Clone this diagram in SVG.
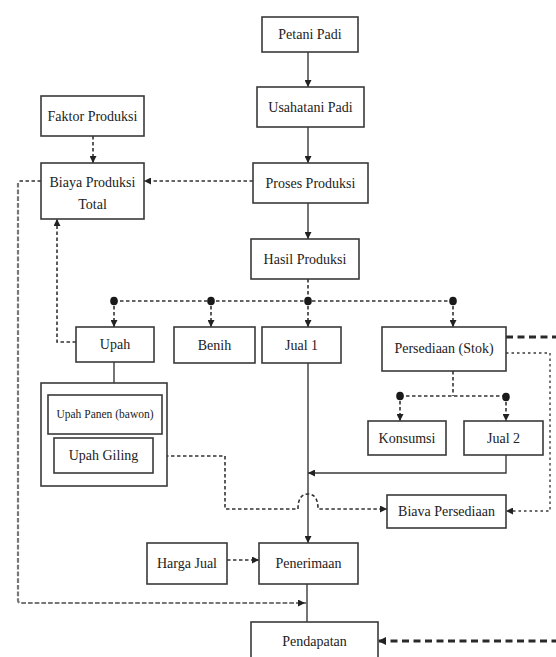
<svg xmlns="http://www.w3.org/2000/svg" width="556" height="657" viewBox="0 0 556 657">
<style>
  .box{fill:#fff;stroke:#3a3a3a;stroke-width:1.6}
  .t{font-family:'Liberation Serif','Times New Roman',serif;font-size:14px;fill:#222;text-anchor:middle}
  .ts{font-size:11.5px}
  .solid{fill:none;stroke:#3a3a3a;stroke-width:1.4}
  .dash{fill:none;stroke:#333;stroke-width:1.6;stroke-dasharray:3.5 2.5}
  .dot{fill:none;stroke:#6a6a6a;stroke-width:1.8;stroke-dasharray:2.5 3}
  .ldot{fill:none;stroke:#777;stroke-width:2.2;stroke-dasharray:2.5 4.2}
  .thick{fill:none;stroke:#2a2a2a;stroke-width:2.8;stroke-dasharray:7 4.5}
  .jn{fill:#1a1a1a}
</style>
<defs>
  <marker id="ah" viewBox="0 0 10 10" refX="10" refY="5" markerWidth="7" markerHeight="7" markerUnits="userSpaceOnUse" orient="auto">
    <path d="M0,0 L10,5 L0,10 z" fill="#222"/>
  </marker>
  <marker id="ahb" viewBox="0 0 10 10" refX="10" refY="5" markerWidth="8" markerHeight="8" markerUnits="userSpaceOnUse" orient="auto">
    <path d="M0,0 L10,5 L0,10 z" fill="#222"/>
  </marker>
</defs>

<g id="connectors">
  <path class="solid" d="M308,52 V87" marker-end="url(#ah)"/>
  <path class="solid" d="M308,127 V163" marker-end="url(#ah)"/>
  <path class="solid" d="M308,203 V239" marker-end="url(#ah)"/>
  <path class="dash" d="M93,136 V163" marker-end="url(#ah)"/>
  <path class="dash" d="M253,181 H144" marker-end="url(#ah)"/>
  <path class="dash" d="M41,181 H19"/>
  <path class="ldot" d="M18,184 V600 Q18,603 21,603 H305" marker-end="url(#ah)" stroke-linecap="square"/>
  <path class="dash" d="M308,279 V301"/>
  <path class="dash" d="M114,301 H453"/>
  <ellipse class="jn" cx="114" cy="301" rx="3.8" ry="4.3"/>
  <ellipse class="jn" cx="211" cy="301" rx="3.8" ry="4.3"/>
  <ellipse class="jn" cx="308" cy="301" rx="3.8" ry="4.3"/>
  <ellipse class="jn" cx="453" cy="301" rx="3.8" ry="4.3"/>
  <path class="dash" d="M114,306 V327" marker-end="url(#ah)"/>
  <path class="dash" d="M211,306 V327" marker-end="url(#ah)"/>
  <path class="dash" d="M308,306 V327" marker-end="url(#ah)"/>
  <path class="dash" d="M453,306 V327" marker-end="url(#ah)"/>
  <path class="dash" d="M76,342 H57 V219" marker-end="url(#ah)"/>
  <path class="solid" d="M114,362 V383"/>
  <path class="solid" d="M308,363 V543" marker-end="url(#ah)"/>
  <path class="dash" d="M453,371 V396"/>
  <path class="dash" d="M400,396 H506"/>
  <ellipse class="jn" cx="400" cy="396" rx="3.8" ry="4.3"/>
  <ellipse class="jn" cx="506" cy="397" rx="3.8" ry="4.3"/>
  <path class="dash" d="M400,401 V421" marker-end="url(#ah)"/>
  <path class="dash" d="M506,402 V421" marker-end="url(#ah)"/>
  <path class="solid" d="M506,455 V473 H308" marker-end="url(#ah)"/>
  <path class="dash" d="M153,456 H225 V509 H298 Q298,494 308,494 Q318,494 318,509 H387" marker-end="url(#ah)"/>
  <path class="dot" d="M506,353 H550 V511 H506" marker-end="url(#ah)"/>
  <path class="thick" d="M506,337 H570 V641 H378" marker-end="url(#ahb)"/>
  <path class="dash" d="M227,560 H259" marker-end="url(#ah)"/>
  <path class="solid" d="M307,584 V622"/>
</g>

<g id="petani-padi"><rect class="box" x="262" y="17" width="96" height="35"/><text class="t" x="310" y="39">Petani Padi</text></g>
<g id="usahatani-padi"><rect class="box" x="257" y="87" width="107" height="40"/><text class="t" x="310.5" y="112">Usahatani Padi</text></g>
<g id="proses-produksi"><rect class="box" x="253" y="163" width="115" height="40"/><text class="t" x="310.5" y="188">Proses Produksi</text></g>
<g id="faktor-produksi"><rect class="box" x="41" y="96" width="103" height="40"/><text class="t" x="92.5" y="121">Faktor Produksi</text></g>
<g id="biaya-produksi-total"><rect class="box" x="41" y="163" width="103" height="56"/><text class="t" x="92.5" y="187">Biaya Produksi</text><text class="t" x="92.5" y="209">Total</text></g>
<g id="hasil-produksi"><rect class="box" x="251" y="239" width="108" height="40"/><text class="t" x="305" y="264">Hasil Produksi</text></g>
<g id="upah"><rect class="box" x="76" y="327" width="78" height="35"/><text class="t" x="115" y="349">Upah</text></g>
<g id="benih"><rect class="box" x="174" y="327" width="81" height="36"/><text class="t" x="214.5" y="350">Benih</text></g>
<g id="jual-1"><rect class="box" x="262" y="327" width="79" height="36"/><text class="t" x="301.5" y="350">Jual 1</text></g>
<g id="persediaan-stok"><rect class="box" x="382" y="327" width="124" height="44"/><text class="t" x="444" y="353">Persediaan (Stok)</text></g>
<g id="upah-group">
  <rect class="box" x="41" y="383" width="126" height="103"/>
  <g id="upah-panen"><rect class="box" x="48" y="395" width="114" height="39"/><text class="t ts" x="105" y="418">Upah Panen (bawon)</text></g>
  <g id="upah-giling"><rect class="box" x="54" y="438" width="99" height="35"/><text class="t" x="103.5" y="460">Upah Giling</text></g>
</g>
<g id="konsumsi"><rect class="box" x="368" y="421" width="78" height="34"/><text class="t" x="407" y="443">Konsumsi</text></g>
<g id="jual-2"><rect class="box" x="464" y="421" width="79" height="34"/><text class="t" x="503.5" y="443">Jual 2</text></g>
<g id="biaya-persediaan"><rect class="box" x="387" y="495" width="119" height="33"/><text class="t" x="446.5" y="516">Biava Persediaan</text></g>
<g id="harga-jual"><rect class="box" x="147" y="543" width="80" height="41"/><text class="t" x="187" y="568">Harga Jual</text></g>
<g id="penerimaan"><rect class="box" x="259" y="543" width="99" height="41"/><text class="t" x="308.5" y="568">Penerimaan</text></g>
<g id="pendapatan"><rect class="box" x="251" y="622" width="127" height="40"/><text class="t" x="314.5" y="646">Pendapatan</text></g>
</svg>
